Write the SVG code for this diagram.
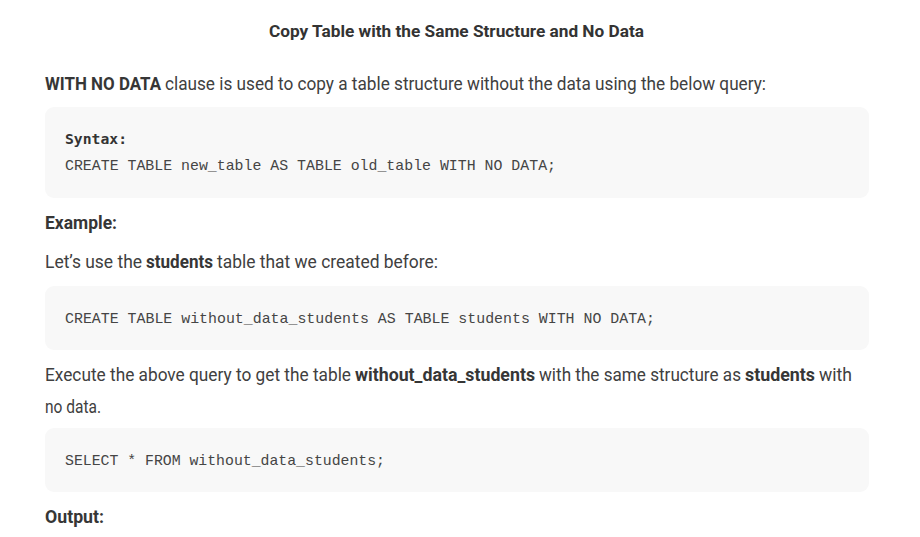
<svg xmlns="http://www.w3.org/2000/svg" width="920" height="537" viewBox="0 0 920 537">
<style>
.t{font-family:"Liberation Sans Narrow","Roboto","Liberation Sans",sans-serif;fill:#404040;font-size:18px}
.b{font-weight:bold;fill:#363636}
.h{font-family:"Liberation Sans Narrow","Roboto","Liberation Sans",sans-serif;font-weight:bold;font-size:17px;fill:#333}
.m{font-family:"Liberation Mono","DejaVu Sans Mono",monospace;font-size:15px;fill:#454545}
.mb{font-family:"DejaVu Sans Mono","Liberation Mono",monospace;font-weight:bold;fill:#333;font-size:13.5px}
.box{fill:#f8f8f8}
</style>
<rect width="920" height="537" fill="#ffffff"/>
<text class="h" x="269" y="37" textLength="375" lengthAdjust="spacingAndGlyphs">Copy Table with the Same Structure and No Data</text>
<text class="t b" x="45" y="90" textLength="116" lengthAdjust="spacingAndGlyphs">WITH NO DATA</text>
<text class="t" x="165" y="90" textLength="601" lengthAdjust="spacingAndGlyphs">clause is used to copy a table structure without the data using the below query:</text>
<g id="code1">
<rect class="box" x="45" y="107" width="824" height="91" rx="9"/>
<text class="mb" x="65" y="144" textLength="62" lengthAdjust="spacingAndGlyphs">Syntax:</text>
<text class="m" x="65" y="170" textLength="491" lengthAdjust="spacingAndGlyphs">CREATE TABLE new_table AS TABLE old_table WITH NO DATA;</text>
</g>
<text class="t b" x="45" y="229" textLength="72" lengthAdjust="spacingAndGlyphs">Example:</text>
<text class="t" x="45" y="268" textLength="97" lengthAdjust="spacingAndGlyphs">Let’s use the</text>
<text class="t b" x="146" y="268" textLength="67" lengthAdjust="spacingAndGlyphs">students</text>
<text class="t" x="217" y="268" textLength="221" lengthAdjust="spacingAndGlyphs">table that we created before:</text>
<g id="code2">
<rect class="box" x="45" y="286" width="824" height="64" rx="9"/>
<text class="m" x="65" y="323" textLength="590" lengthAdjust="spacingAndGlyphs">CREATE TABLE without_data_students AS TABLE students WITH NO DATA;</text>
</g>
<text class="t" x="45" y="381" textLength="306" lengthAdjust="spacingAndGlyphs">Execute the above query to get the table</text>
<text class="t b" x="355" y="381" textLength="180" lengthAdjust="spacingAndGlyphs">without_data_students</text>
<text class="t" x="539" y="381" textLength="202" lengthAdjust="spacingAndGlyphs">with the same structure as</text>
<text class="t b" x="745" y="381" textLength="70" lengthAdjust="spacingAndGlyphs">students</text>
<text class="t" x="819" y="381" textLength="33" lengthAdjust="spacingAndGlyphs">with</text>
<text class="t" x="45" y="413" textLength="56" lengthAdjust="spacingAndGlyphs">no data.</text>
<g id="code3">
<rect class="box" x="45" y="428" width="824" height="64" rx="9"/>
<text class="m" x="65" y="465" textLength="320" lengthAdjust="spacingAndGlyphs">SELECT * FROM without_data_students;</text>
</g>
<text class="t b" x="45" y="523" textLength="59" lengthAdjust="spacingAndGlyphs">Output:</text>
</svg>
